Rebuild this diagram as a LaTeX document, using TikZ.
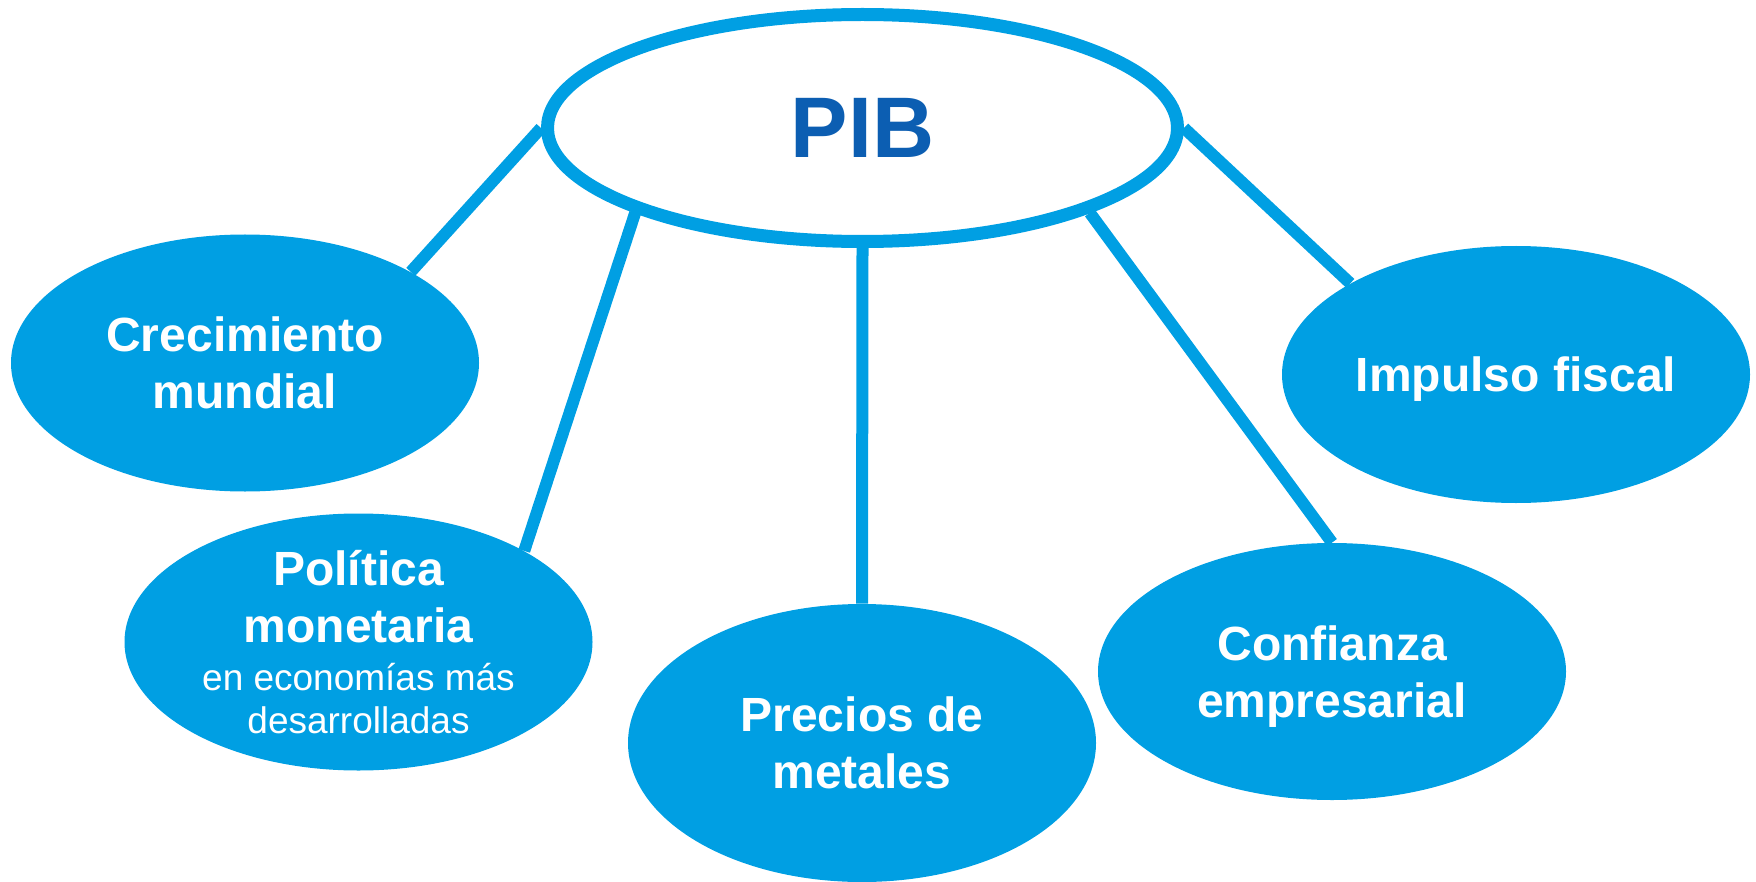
\documentclass[tikz,border=0pt]{standalone}
\usepackage{fontspec}
\setmainfont{Liberation Sans}
\usepackage{xcolor}
\usetikzlibrary{shapes.geometric}

\definecolor{bubble}{RGB}{0,159,227}
\definecolor{pibblue}{RGB}{12,94,178}

\begin{document}
\begin{tikzpicture}[x=0.5pt, y=-0.5pt,
    every node/.style={font=\fontsize{24}{28.25}\selectfont\bfseries},
    factor/.style={ellipse, fill=bubble, text=white, align=center, inner sep=0pt,
        minimum width=234pt, minimum height=128.5pt},
    pib/.style={ellipse, draw=bubble, line width=6.5pt, fill=white, text=pibblue,
        minimum width=315pt, minimum height=113.5pt,
        font=\fontsize{43}{50}\selectfont\bfseries},
    link/.style={draw=bubble, line width=6pt}]
       % canvas
       \useasboundingbox (0, 0) rectangle (1756, 882);

       % centre
       \node [pib] (pib) at (862.5, 128) {PIB};

       % factors
       \node [factor] (crec) at (245, 363) {Crecimiento\\mundial};
       \node [factor, inner ysep=-8pt] (pol) at (358.5, 642) {Pol\'{\i}tica\\monetaria\\[-4.25pt]
           {\fontsize{18.5}{21.5}\selectfont\mdseries en econom\'{\i}as m\'as}\\[-6.75pt]
           {\fontsize{18.5}{21.5}\selectfont\mdseries desarrolladas}};
       \node [factor, minimum height=139pt] (prec) at (862, 743) {Precios de\\metales};
       \node [factor, text depth=0pt] (conf) at (1332, 671.5) {Confianza\\empresarial};
       \node [factor, text depth=0pt] (imp) at (1516, 374.5) {Impulso fiscal};

       % links
       \draw [link] (pib.west) -- (crec.north east);
       \draw [link] (pib.south west) -- (pol.north east);
       \draw [link] (pib.south) -- (prec.north);
       \draw [link] (pib.south east) -- (conf.north);
       \draw [link] (pib.east) -- (imp.north west);
\end{tikzpicture}
\end{document}
